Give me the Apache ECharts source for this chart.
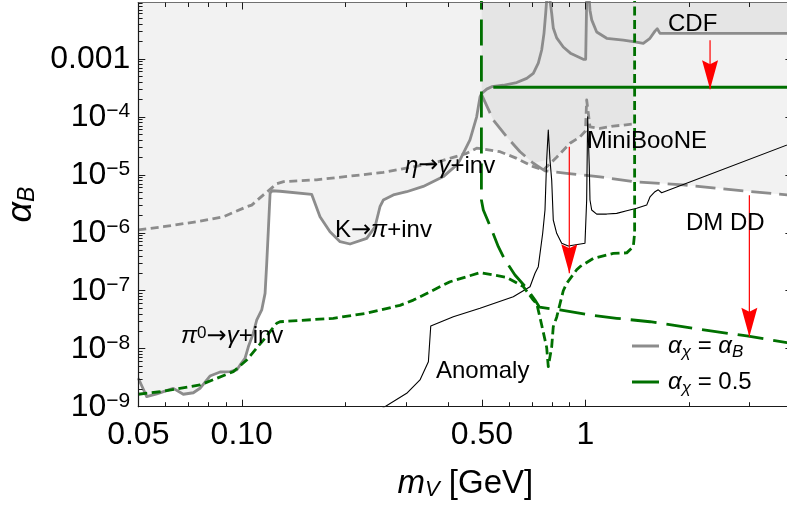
<!DOCTYPE html>
<html><head><meta charset="utf-8">
<script src="https://cdn.jsdelivr.net/npm/echarts@6/dist/echarts.min.js"></script>
<style>html,body{margin:0;padding:0;background:#fff}#c{width:787px;height:506px}</style>
</head><body><div id="c"></div>
<script>
// ---------------- data ----------------
const xTickValues = [0.05, 0.1, 0.5, 1];
const xTickLabels = ['0.05', '0.10', '0.50', '1'];
const xMinorTicks = [0.06, 0.07, 0.08, 0.09, 0.2, 0.3, 0.4, 0.6, 0.7, 0.8, 0.9, 2, 3];
const yTickValues = [1e-9, 1e-8, 1e-7, 1e-6, 1e-5, 1e-4, 1e-3];
const yTickLabels = ['10^-9', '10^-8', '10^-7', '10^-6', '10^-5', '10^-4', '0.001'];

// gray solid: pi0 -> gamma+inv, K -> pi+inv, rising to 0.5 GeV
const grayPi0KEta = [[0.05,3.1e-9],[0.0529,1.49e-9],[0.0566,1.66e-9],[0.0632,2.07e-9],[0.0676,1.64e-9],[0.0723,1.74e-9],[0.0756,2.08e-9],[0.0808,3.38e-9],[0.0865,3.97e-9],[0.0925,4.02e-9],[0.0967,4.3e-9],[0.0988,5.2e-9],[0.1022,6.8e-9],[0.1045,1.08e-8],[0.108,1.84e-8],[0.1105,3.1e-8],[0.1143,4.66e-8],[0.1169,9.0e-8],[0.1182,2.97e-7],[0.1195,1.12e-6],[0.1209,4.8e-6],[0.1225,5.3e-6],[0.1292,5.2e-6],[0.1597,4.6e-6],[0.1689,1.89e-6],[0.1806,1.04e-6],[0.1932,7.0e-7],[0.2065,6.4e-7],[0.231,8.0e-7],[0.2442,1.27e-6],[0.2524,2.81e-6],[0.2581,3.67e-6],[0.276,4.5e-6],[0.3019,5.1e-6],[0.3373,6.3e-6],[0.386,9.3e-6],[0.4221,1.48e-5],[0.4315,1.8e-5],[0.4613,4.0e-5],[0.4824,1.0e-4],[0.4934,2.2e-4],[0.499,2.54e-4]];
// gray solid: CDF (alpha_chi = alpha_B)
const grayCdf = [[0.499,2.54e-4],[0.516,3.0e-4],[0.5336,3.3e-4],[0.5767,3.5e-4],[0.6308,3.9e-4],[0.6746,4.6e-4],[0.7051,5.6e-4],[0.729,8.4e-4],[0.7458,1.42e-3],[0.7574,2.75e-3],[0.766,6.1e-3],[0.7711,1.03e-2],[0.7884,1.03e-2],[0.7975,6.1e-3],[0.806,3.4e-3],[0.8246,2.3e-3],[0.8618,1.6e-3],[0.9075,1.23e-3],[0.9854,9.8e-4],[1.0014,9.8e-4],[1.0081,1.03e-2],[1.0259,1.03e-2],[1.0307,6.9e-3],[1.0426,4.7e-3],[1.078,2.9e-3],[1.1527,2.26e-3],[1.2885,2.1e-3],[1.3777,1.97e-3],[1.4731,1.85e-3],[1.5407,2.26e-3],[1.5929,3.0e-3],[1.6177,3.3e-3],[1.6473,2.75e-3],[1.7229,2.75e-3],[4.0,2.75e-3]];
// gray short-dashed: eta -> gamma+inv
const grayEtaDashed = [[0.05,1.12e-6],[0.0591,1.27e-6],[0.0739,1.55e-6],[0.0884,1.89e-6],[0.1034,2.81e-6],[0.1069,3.0e-6],[0.1156,4.5e-6],[0.1209,5.6e-6],[0.1264,7.0e-6],[0.1324,7.6e-6],[0.1651,8.2e-6],[0.2581,1.1e-5],[0.361,1.58e-5],[0.4512,2.34e-5],[0.4824,2.87e-5],[0.5044,2.78e-5],[0.5641,2.5e-5],[0.6308,1.92e-5],[0.7051,1.38e-5],[0.7539,1.21e-5]];
// gray short-dashed: MiniBooNE
const grayMiniBooNE = [[0.7539,1.21e-5],[0.8246,2.0e-5],[0.9015,3.5e-5],[0.9638,4.5e-5],[1.0,5.7e-5],[1.0081,1.95e-4],[1.017,1.95e-4],[1.0307,6.7e-5],[1.1021,6.3e-5],[1.2049,6.9e-5],[1.3777,7.5e-5]];
// gray long-dashed: DM direct detection
const grayDmDd = [[0.499,2.38e-4],[0.5394,8.8e-5],[0.59,4.5e-5],[0.645,2.5e-5],[0.7051,1.58e-5],[0.7625,1.17e-5],[0.8817,1.06e-5],[1.1021,9.2e-6],[1.3777,7.6e-6],[1.9222,6.7e-6],[2.6927,5.5e-6],[3.858,4.5e-6],[4.0,4.4e-6]];
// green (alpha_chi = 0.5)
const greenDmDd = [[0.498,0.02],[0.498,3.67e-6],[0.5044,2.47e-6],[0.5336,1.12e-6],[0.5578,5.75e-7],[0.5833,3.39e-7],[0.6236,1.87e-7],[0.6746,1.1e-7],[0.7132,6.9e-8],[0.735,5.2e-8],[0.843,4.66e-8],[1.0307,3.82e-8],[1.2327,3.35e-8],[1.5407,2.92e-8],[2.1547,2.16e-8],[2.946,1.66e-8],[3.858,1.27e-8],[4.0,1.24e-8]];
const greenCdf = [[0.5394,3.23e-4],[4.0,3.23e-4]];
const greenMiniBooNE = [[0.05,1.64e-9],[0.0578,1.81e-9],[0.0756,2.37e-9],[0.0945,4.02e-9],[0.1034,6.4e-9],[0.1156,1.41e-8],[0.1264,2.75e-8],[0.1292,2.92e-8],[0.1846,3.35e-8],[0.231,4.1e-8],[0.2886,5.6e-8],[0.3156,6.9e-8],[0.4037,1.43e-7],[0.4934,2.05e-7],[0.59,1.7e-7],[0.6594,1.18e-7],[0.7051,6.9e-8],[0.7214,6.0e-8],[0.7458,2.57e-8],[0.7711,1.05e-8],[0.7795,4.9e-9],[0.7975,1.08e-8],[0.806,2.4e-8],[0.8246,3.5e-8],[0.8618,1.0e-7],[0.8817,1.34e-7],[0.9427,2.3e-7],[0.9638,2.6e-7],[1.0537,3.6e-7],[1.2049,4.4e-7],[1.3182,4.5e-7],[1.3777,5.75e-7],[1.39,9.8e-7],[1.39,0.02]];
// black thin: anomaly
const anomaly = [[0.252,8.8e-10],[0.3019,1.7e-9],[0.33,2.89e-9],[0.3491,5.97e-9],[0.3547,2.46e-8],[0.4126,3.57e-8],[0.4934,4.98e-8],[0.6166,7.9e-8],[0.6897,1.17e-7],[0.7132,2.0e-7],[0.729,2.6e-7],[0.7508,9.8e-7],[0.7625,2.47e-6],[0.7711,1.8e-5],[0.7795,5.9e-5],[0.7884,1.8e-5],[0.7975,8.1e-6],[0.806,1.66e-6],[0.8246,9.8e-7],[0.8527,6.6e-7],[0.8913,5.9e-7],[0.9967,6.6e-7],[1.0081,3.67e-6],[1.0149,1.0e-4],[1.0259,1.38e-5],[1.0307,3.67e-6],[1.0426,2.47e-6],[1.078,2.1e-6],[1.1527,2.1e-6],[1.2327,2.16e-6],[1.3182,2.4e-6],[1.4094,2.64e-6],[1.507,3.0e-6],[1.5407,4.14e-6],[1.5929,5.1e-6],[1.6285,5.5e-6],[1.666,4.9e-6],[4.0,3.54e-5]];
// red arrows [start, tip]
const arrowCdf = [[2.304,2.1e-3],[2.304,3.0e-4]];
const arrowMiniBooNE = [[0.8973,3.05e-5],[0.8973,2.0e-7]];
const arrowDmDd = [[2.998,4.45e-6],[2.998,1.61e-8]];

// ---------------- chart ----------------
const X_MIN = 0.05, X_MAX = 4, Y_MIN = 1e-9, Y_MAX = 0.00936;
const FONT = '"Liberation Sans", Arial, Helvetica, sans-serif';
const ARROWFONT = '"DejaVu Sans", sans-serif';
const GRAY = '#8c8c8c', GREEN = '#007000', RED = '#ff0000';
const AX_DARK = '#1a1a1a', AX_LIGHT = '#707070';

const yMinorTicks = [];
for (let e = -9; e <= -3; e++) for (let k = 2; k <= 9; k++) { const v = k * Math.pow(10, e); if (v < Y_MAX) yMinorTicks.push(v); }

function near(a, b) { return Math.abs(Math.log10(a) - Math.log10(b)) < 1e-6; }
function xFmt(v) { for (let i = 0; i < xTickValues.length; i++) if (near(v, xTickValues[i])) return xTickLabels[i]; return ''; }
function yFmt(v) {
  for (let i = 0; i < yTickValues.length; i++) if (near(v, yTickValues[i])) {
    const s = yTickLabels[i];
    if (s.indexOf('^') < 0) return s;
    const p = s.split('^');
    return '{b|' + p[0] + '}{s|' + p[1].replace('-', '\u2212') + '}';
  }
  return '';
}

function axisCommon(min, max) {
  return { type: 'log', logBase: 10, min, max, gridIndex: 0, z: 10, silent: true,
    splitLine: { show: false }, minorTick: { show: false }, minorSplitLine: { show: false }, axisPointer: { show: false } };
}
function mkAxis(dir, position, ticks, len, lineShow, label) {
  const a = axisCommon(dir === 'x' ? X_MIN : Y_MIN, dir === 'x' ? X_MAX : Y_MAX);
  a.position = position;
  a.axisLine = { show: lineShow, lineStyle: { color: (position === 'top' || position === 'right') ? AX_LIGHT : AX_DARK, width: 1.2 } };
  a.axisTick = { show: true, inside: true, length: len, customValues: ticks, lineStyle: { color: AX_DARK, width: 1 } };
  a.axisLabel = label || { show: false };
  return a;
}

const xMain = mkAxis('x', 'bottom', xTickValues, 7, true, {
  show: true, customValues: xTickValues, formatter: xFmt, margin: 12, showMinLabel: true, showMaxLabel: true,
  fontSize: 32, fontFamily: FONT, color: '#000'
});
xMain.name = '{i|m}{s|V}{n| [GeV]}';
xMain.nameLocation = 'middle';
xMain.nameGap = 61;
xMain.nameMoveOverlap = false;
xMain.nameTextStyle = { fontSize: 32, fontFamily: FONT, color: '#000', rich: {
  i: { fontSize: 33, fontStyle: 'italic', fontFamily: FONT, color: '#000' },
  s: { fontSize: 22, fontStyle: 'italic', fontFamily: FONT, color: '#000', verticalAlign: 'bottom' },
  n: { fontSize: 33, fontFamily: FONT, color: '#000' } } };

const yMain = mkAxis('y', 'left', yTickValues, 7, true, {
  show: true, customValues: yTickValues, formatter: yFmt, margin: 8, showMinLabel: true, showMaxLabel: true,
  fontSize: 32, fontFamily: FONT, color: '#000',
  rich: { b: { fontSize: 32, fontFamily: FONT, color: '#000' },
          s: { fontSize: 21, fontFamily: FONT, color: '#000', verticalAlign: 'top' } }
});
yMain.name = '{a|\u03b1}{s|B}';
yMain.nameLocation = 'middle';
yMain.nameRotate = 90;
yMain.nameGap = 99;
yMain.nameMoveOverlap = false;
yMain.nameTextStyle = { fontSize: 32, fontFamily: FONT, color: '#000', rich: {
  a: { fontSize: 36, fontStyle: 'italic', fontFamily: FONT, color: '#000' },
  s: { fontSize: 23, fontStyle: 'italic', fontFamily: FONT, color: '#000', verticalAlign: 'bottom' } } };

const xAxes = [xMain,
  mkAxis('x', 'bottom', xMinorTicks, 4.5, false),
  mkAxis('x', 'top', xTickValues, 7, true),
  mkAxis('x', 'top', xMinorTicks, 4.5, false)];
const yAxes = [yMain,
  mkAxis('y', 'left', yMinorTicks, 4.3, false),
  mkAxis('y', 'right', yTickValues, 7, true),
  mkAxis('y', 'right', yMinorTicks, 4.3, false)];

function line(name, data, color, width, type, z) {
  return { name, type: 'line', data, xAxisIndex: 0, yAxisIndex: 0, symbol: 'none', showSymbol: false,
    clip: true, silent: true, animation: false, z, itemStyle: { color },
    lineStyle: { color, width, type, cap: 'butt', join: 'round' } };
}
function fill(name, data, color, z) {
  return { name, type: 'line', data, xAxisIndex: 0, yAxisIndex: 0, symbol: 'none', showSymbol: false,
    clip: true, silent: true, animation: false, z,
    lineStyle: { width: 0, opacity: 0 }, areaStyle: { origin: 'end', color, opacity: 1 } };
}

// dark region (overlap) boundary built from the curves above
const darkBoundary = grayDmDd.filter(p => p[0] <= 0.754)
  .concat(grayMiniBooNE.slice(1), [[1.3869, 7.5e-5], [1.3869, 1.97e-3]], grayCdf.filter(p => p[0] > 1.3869));

const LIGHT = '#f2f2f2', DARK = '#e5e5e5';
const series = [
  fill('fillA', grayPi0KEta, LIGHT, 1),
  fill('fillEta', grayEtaDashed, LIGHT, 1),
  fill('fillDd', grayDmDd, LIGHT, 1),
  fill('fillDark', darkBoundary, DARK, 2),
  line('grayA', grayPi0KEta, GRAY, 2.8, 'solid', 3),
  line('gray', grayCdf, GRAY, 2.8, 'solid', 3),
  line('grayEta', grayEtaDashed, GRAY, 2.8, [8, 4.5], 3),
  line('grayMB', grayMiniBooNE, GRAY, 2.8, [8, 4.5], 3),
  line('grayDd', grayDmDd, GRAY, 2.8, [20, 8], 3),
  line('anomaly', anomaly, '#000', 1.1, 'solid', 4),
  line('greenDd', greenDmDd, GREEN, 2.8, [26, 10], 5),
  line('green', greenCdf, GREEN, 2.8, 'solid', 5),
  line('greenMB', greenMiniBooNE, GREEN, 2.8, [9, 4.5], 5),
  line('arrow1', arrowCdf, RED, 1.2, 'solid', 6),
  line('arrow2', arrowMiniBooNE, RED, 1.2, 'solid', 6),
  line('arrow3', arrowDmDd, RED, 1.2, 'solid', 6),
  { name: 'heads', type: 'scatter', xAxisIndex: 0, yAxisIndex: 0, silent: true, animation: false, z: 7,
    data: [arrowCdf[1], arrowMiniBooNE[1], arrowDmDd[1]],
    symbol: 'path://M0,0 L8,4 L16,0 L8,29 Z', symbolSize: [16, 29], symbolOffset: [0, '-50%'],
    itemStyle: { color: RED, opacity: 1 } }
];

function txt(x, y, text, rich) {
  return { type: 'text', x, y, z: 100, silent: true,
    style: { text, fontSize: 24, fontFamily: FONT, fill: '#000', align: 'left', verticalAlign: 'middle',
      rich: rich || {} } };
}
const greekRich = {
  g: { fontStyle: 'italic', fontSize: 24, fontFamily: FONT, fill: '#000' },
  n: { fontSize: 24, fontFamily: FONT, fill: '#000' },
  ar: { fontSize: 24, fontFamily: ARROWFONT, fill: '#000' },
  sup: { fontSize: 17, fontFamily: FONT, fill: '#000', verticalAlign: 'top' } };

const option = {
  backgroundColor: '#fff',
  animation: false,
  grid: { left: 138.3, top: 2.5, width: 654.1, height: 404.2, containLabel: false, outerBoundsMode: 'none' },
  xAxis: xAxes,
  yAxis: yAxes,
  legend: {
    data: [{ name: 'gray', icon: 'rect', itemStyle: { color: GRAY } },
           { name: 'green', icon: 'rect', itemStyle: { color: GREEN } }],
    orient: 'vertical', left: 632, top: 331, padding: 0,
    itemGap: 6, itemWidth: 27, itemHeight: 3, selectedMode: false, z: 100,
    formatter: n => n === 'gray' ? '{g|\u03b1}{s|\u03c7}{t| = }{g|\u03b1}{s|B}' : '{g|\u03b1}{s|\u03c7}{t| = 0.5}',
    textStyle: { color: '#000', fontSize: 24, fontFamily: FONT, lineHeight: 30, padding: [0, 0, 0, 4], rich: {
      g: { fontSize: 24, fontStyle: 'italic', fontFamily: FONT, color: '#000', lineHeight: 30 },
      s: { fontSize: 17, fontStyle: 'italic', fontFamily: FONT, color: '#000', verticalAlign: 'bottom' },
      t: { fontSize: 24, fontFamily: FONT, color: '#000', lineHeight: 30 } } }
  },
  graphic: [
    txt(668, 24.5, 'CDF'),
    txt(587, 141, 'MiniBooNE'),
    txt(686, 223.3, 'DM DD'),
    txt(405, 166, '{g|\u03b7}{ar|\u2192}{g|\u03b3}{n|+inv}', greekRich),
    txt(335, 230.7, '{n|K}{ar|\u2192}{g|\u03c0}{n|+inv}', greekRich),
    txt(181, 336.5, '{g|\u03c0}{sup|0}{ar|\u2192}{g|\u03b3}{n|+inv}', greekRich),
    txt(436, 371.4, 'Anomaly')
  ],
  series
};

const chart = echarts.init(document.getElementById('c'), null, { renderer: 'canvas' });
chart.setOption(option);
</script>
</body></html>
